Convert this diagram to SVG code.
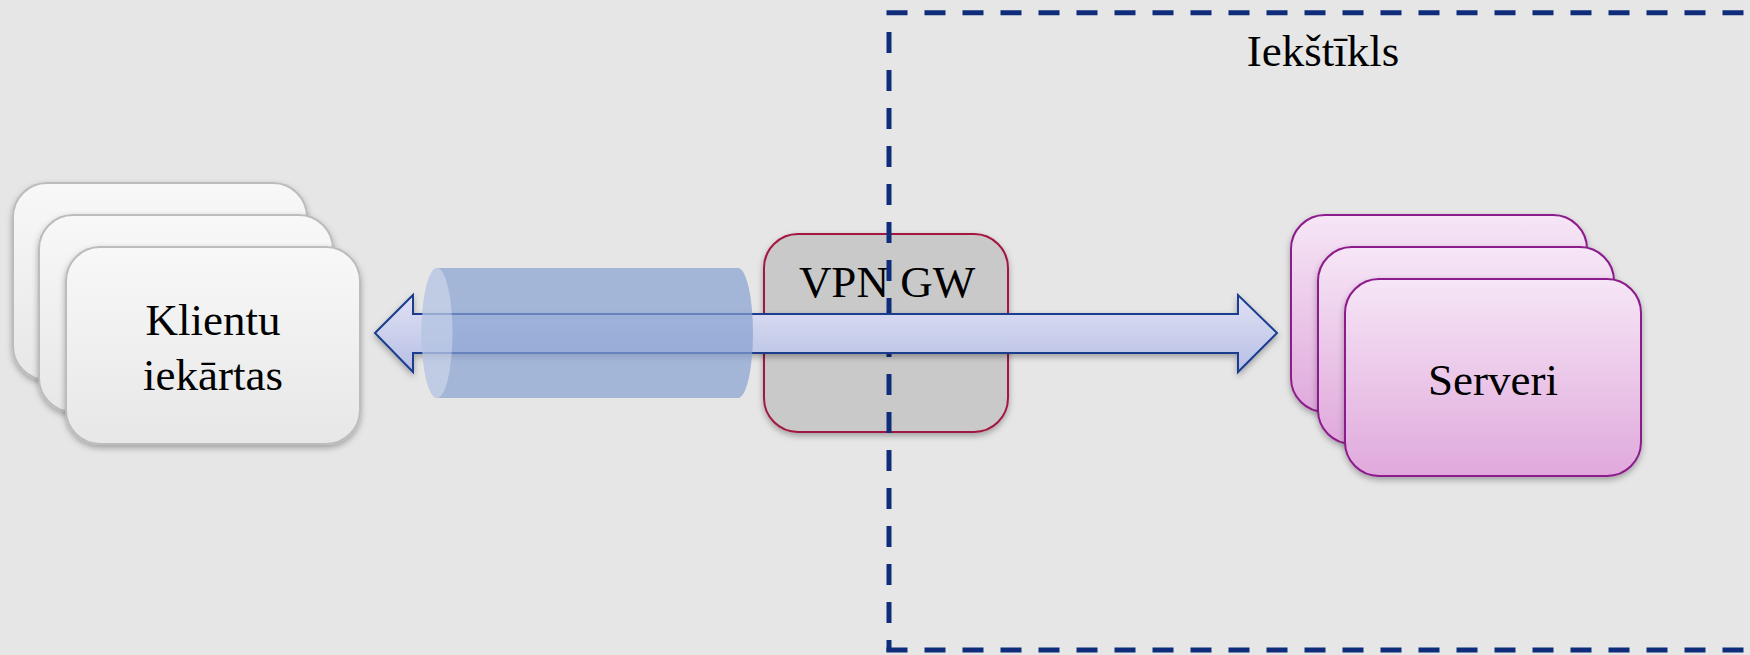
<svg xmlns="http://www.w3.org/2000/svg" width="1750" height="655" viewBox="0 0 1750 655">
<defs>
<linearGradient id="gClient" x1="0" y1="0" x2="0" y2="1">
<stop offset="0" stop-color="#f8f8f8"/><stop offset="1" stop-color="#e7e7e7"/>
</linearGradient>
<linearGradient id="gServer" x1="0" y1="0" x2="0" y2="1">
<stop offset="0" stop-color="#f6e6f6"/><stop offset="1" stop-color="#e0a9dc"/>
</linearGradient>
<linearGradient id="gArrow" x1="0" y1="0" x2="0" y2="1">
<stop offset="0" stop-color="#e0e2f4"/><stop offset="1" stop-color="#b6bee4"/>
</linearGradient>
<filter id="sh" x="-10%" y="-10%" width="120%" height="130%">
<feDropShadow dx="0" dy="3" stdDeviation="3" flood-color="#000" flood-opacity="0.3"/>
</filter>
</defs>
<style>
.client{fill:url(#gClient);stroke:#bcbcbc;stroke-width:2;filter:url(#sh)}
.server{fill:url(#gServer);stroke:#8c1a8c;stroke-width:2;filter:url(#sh)}
.lbl{font-family:"Liberation Serif","Times New Roman",serif;font-size:45px;fill:#000;text-anchor:middle}
.dash{fill:none;stroke:#0f2c7a;stroke-width:5;stroke-dasharray:21 17}
</style>
<rect x="0" y="0" width="1750" height="655" fill="#e6e6e6"/>

<g id="clients">
<rect class="client" x="13" y="183" width="294" height="197" rx="34"/>
<rect class="client" x="39" y="215" width="294" height="197" rx="34"/>
<rect class="client" x="66" y="247" width="294" height="197" rx="34"/>
<text class="lbl" x="213" y="335">Klientu</text>
<text class="lbl" x="213" y="390">iekārtas</text>
</g>

<g id="servers">
<rect class="server" x="1291" y="215" width="296" height="197" rx="34"/>
<rect class="server" x="1318" y="247" width="296" height="197" rx="34"/>
<rect class="server" x="1345" y="279" width="296" height="197" rx="34"/>
<text class="lbl" x="1493" y="395">Serveri</text>
</g>

<g id="vpngw">
<rect x="764" y="234" width="244" height="198" rx="34" fill="#c9c9c9" stroke="#a3173f" stroke-width="2" filter="url(#sh)"/>
<text class="lbl" x="887" y="297">VPN GW</text>
</g>

<g id="intranet">
<path class="dash" d="M886.5 12.7 H1760"/>
<path class="dash" d="M889 32 V652"/>
<path class="dash" d="M886.5 650 H1760"/>
<text class="lbl" x="1323" y="66">Iekštīkls</text>
</g>

<g id="connectors">
<path d="M375 333 L413 295 L413 314 L1238 314 L1238 295 L1277 333 L1238 372 L1238 353 L413 353 L413 372 Z" fill="url(#gArrow)" stroke="#1b3d8f" stroke-width="2" stroke-linejoin="miter" filter="url(#sh)"/>
</g>

<g id="tunnel">
<path d="M437 268 H738 A15 65 0 0 1 738 398 H437 A15.5 65 0 0 1 437 268 Z" fill="rgb(136,161,210)" fill-opacity="0.7"/>
<ellipse cx="437" cy="333" rx="15.5" ry="65" fill="#ffffff" fill-opacity="0.3"/>
</g>
</svg>
